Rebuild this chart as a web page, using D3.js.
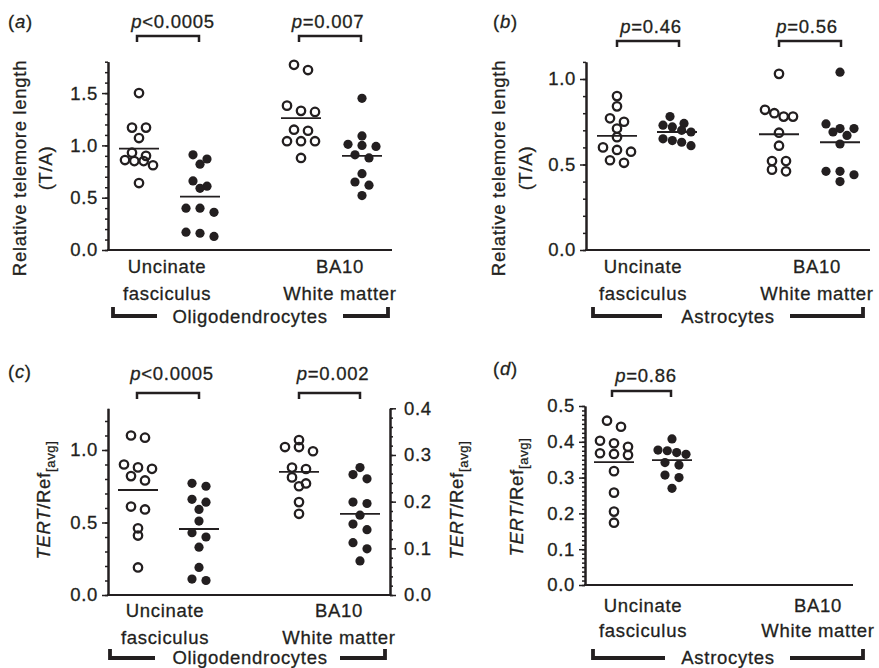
<!DOCTYPE html>
<html>
<head>
<meta charset="utf-8">
<script src="https://cdn.jsdelivr.net/npm/d3@7"></script>
<style>
body { margin: 0; background: #fff; }
text { font-family: "Liberation Sans", Arial, sans-serif; font-size: 18.5px; letter-spacing: 0.7px; fill: #231f20; stroke: #231f20; stroke-width: 0.3px; }
</style>
</head>
<body>
<script>
// ---- data ----
const regions = [["Uncinate", "fasciculus"], ["BA10", "White matter"]];
const cellTypes = ["Oligodendrocytes", "Astrocytes"];

// (a) telomere length, oligodendrocytes (open = control, filled = MDD)
const telOligoUFOpen   = [1.50, 1.17, 1.17, 1.07, 0.93, 0.90, 0.86, 0.85, 0.85, 0.81, 0.64];
const telOligoUFFilled = [0.91, 0.87, 0.82, 0.66, 0.61, 0.59, 0.40, 0.40, 0.36, 0.17, 0.16, 0.13];
const telOligoWMOpen   = [1.77, 1.72, 1.38, 1.33, 1.32, 1.15, 1.14, 1.04, 1.04, 1.04, 0.88];
const telOligoWMFilled = [1.45, 1.09, 1.01, 1.00, 0.99, 0.91, 0.88, 0.73, 0.65, 0.62, 0.52];
const telOligoMeans    = [0.97, 0.51, 1.26, 0.90];
const telOligoP        = ["<0.0005", "=0.007"];

// (b) telomere length, astrocytes
const telAstroUFOpen   = [0.90, 0.84, 0.77, 0.75, 0.71, 0.66, 0.60, 0.585, 0.575, 0.525, 0.51];
const telAstroUFFilled = [0.78, 0.74, 0.73, 0.72, 0.70, 0.69, 0.65, 0.64, 0.63, 0.61];
const telAstroWMOpen   = [1.03, 0.82, 0.80, 0.78, 0.78, 0.686, 0.61, 0.52, 0.52, 0.47, 0.46];
const telAstroWMFilled = [1.04, 0.737, 0.71, 0.71, 0.69, 0.67, 0.62, 0.46, 0.46, 0.44, 0.40];
const telAstroMeans    = [0.667, 0.69, 0.677, 0.63];
const telAstroP        = ["=0.46", "=0.56"];

// (c) TERT expression, oligodendrocytes (BA10 on right axis)
const tertOligoUFOpen   = [1.10, 1.085, 0.90, 0.88, 0.87, 0.82, 0.79, 0.61, 0.59, 0.46, 0.41, 0.19];
const tertOligoUFFilled = [0.77, 0.75, 0.66, 0.64, 0.59, 0.51, 0.43, 0.40, 0.33, 0.19, 0.11, 0.10];
const tertOligoWMOpen   = [0.332, 0.317, 0.317, 0.308, 0.273, 0.270, 0.252, 0.239, 0.233, 0.199, 0.174];
const tertOligoWMFilled = [0.273, 0.258, 0.249, 0.199, 0.196, 0.171, 0.152, 0.140, 0.112, 0.099, 0.073];
const tertOligoMeans    = [0.724, 0.455, 0.264, 0.174];
const tertOligoP        = ["<0.0005", "=0.002"];

// (d) TERT expression, astrocytes (uncinate only)
const tertAstroUFOpen   = [0.459, 0.442, 0.403, 0.396, 0.386, 0.368, 0.366, 0.363, 0.318, 0.258, 0.205, 0.174];
const tertAstroUFFilled = [0.408, 0.377, 0.375, 0.37, 0.365, 0.342, 0.335, 0.307, 0.30, 0.27];
const tertAstroMeans    = [0.343, 0.349];
const tertAstroP        = ["=0.86"];

const leftTicksTel  = [0, 0.5, 1.0, 1.5];
const leftTicksTelB = [0, 0.5, 1.0];
const rightTicksC   = [0, 0.1, 0.2, 0.3, 0.4];
const leftTicksD    = [0, 0.1, 0.2, 0.3, 0.4, 0.5];

// ---- page ----
const ink = "#231f20";
const svg = d3.select("body").append("svg").attr("width", 879).attr("height", 668);
const fmt = d3.format(".1f");

function swarm(values, y, cx) {
  const pts = values.map(v => ({ v, y: y(v) })).sort((a, b) => a.y - b.y);
  const rows = [];
  pts.forEach(p => {
    const row = rows[rows.length - 1];
    if (row && p.y - row[0].y < 7) row.push(p); else rows.push([p]);
  });
  rows.forEach(row => {
    const n = row.length, step = n === 1 ? 0 : n === 2 ? 14 : 28 / (n - 1);
    row.forEach((p, i) => p.x = cx + (i - (n - 1) / 2) * step);
  });
  return pts;
}

function styleAxis(g) {
  g.select(".domain").attr("stroke", ink).attr("stroke-width", 2);
  g.selectAll(".tick line").attr("stroke", ink).attr("stroke-width", 1.5);
}

function leftAxis(g, y, x0, major, minorStep) {
  const [lo, hi] = y.domain();
  const minor = d3.range(lo, hi + 1e-9, minorStep);
  g.append("g").attr("transform", `translate(${x0},0)`)
    .call(d3.axisLeft(y).tickValues(minor).tickSize(3).tickSizeOuter(0).tickFormat(""))
    .call(styleAxis);
  g.append("g").attr("transform", `translate(${x0},0)`)
    .call(d3.axisLeft(y).tickValues(major).tickSize(6).tickSizeOuter(0).tickPadding(4).tickFormat(fmt))
    .call(styleAxis)
    .call(a => a.selectAll("text").attr("fill", ink).style("font-size", "18.5px").style("font-family", null));
}

function dots(g, values, y, cx, filled, mean) {
  const pts = swarm(values, y, cx);
  g.append("line").attr("x1", cx - 20).attr("x2", cx + 20)
    .attr("y1", y(mean)).attr("y2", y(mean))
    .attr("stroke", ink).attr("stroke-width", 1.8);
  g.selectAll(null).data(pts).enter().append("circle")
    .attr("cx", d => d.x).attr("cy", d => d.y)
    .attr("r", filled ? 4.6 : 4.2)
    .attr("fill", filled ? ink : "none")
    .attr("stroke", filled ? "none" : ink)
    .attr("stroke-width", 2.3);
}

function pBracket(g, text, cx, x1, x2, baseline, by) {
  g.append("path").attr("d", `M${x1},${by + 6}V${by}H${x2}V${by + 6}`)
    .attr("fill", "none").attr("stroke", ink).attr("stroke-width", 2.5);
  const t = g.append("text").attr("x", cx).attr("y", baseline).attr("text-anchor", "middle");
  t.append("tspan").attr("font-style", "italic").text("p");
  t.append("tspan").text(text);
}

function panelTag(g, letter, x, y) {
  const t = g.append("text").attr("x", x).attr("y", y);
  t.append("tspan").text("(");
  t.append("tspan").attr("font-style", "italic").text(letter);
  t.append("tspan").text(")");
}

function xAxisAndLabels(g, L, cell) {
  g.append("line").attr("x1", L.x0 - 1).attr("x2", L.x1).attr("y1", L.y0).attr("y2", L.y0)
    .attr("stroke", ink).attr("stroke-width", 2);
  regions.forEach((r, i) => {
    r.forEach((line, j) => {
      g.append("text").attr("x", L.x0 + L.labelX[i]).attr("y", L.y0 + L.labelY[j])
        .attr("text-anchor", "middle").text(line);
    });
  });
  const by = L.y0 + L.brY;
  g.append("path")
    .attr("d", `M${L.x0 + L.brL[0]},${by - 9}V${by}H${L.x0 + L.brL[1]}M${L.x0 + L.brR[0]},${by}H${L.x0 + L.brR[1]}V${by - 9}`)
    .attr("fill", "none").attr("stroke", ink).attr("stroke-width", 3.8);
  g.append("text").attr("x", L.x0 + L.brText).attr("y", by + L.brTextDy)
    .attr("text-anchor", "middle").text(cell);
}

function yTitle(g, x, cy, lines) {
  lines.forEach((line, i) => {
    g.append("text").attr("transform", `translate(${x[i]},${cy}) rotate(-90)`)
      .attr("text-anchor", "middle").text(line);
  });
}

function tertTitle(g, x, cy) {
  const t = g.append("text").attr("transform", `translate(${x},${cy}) rotate(-90)`)
    .attr("text-anchor", "middle");
  t.append("tspan").attr("font-style", "italic").text("TERT");
  t.append("tspan").text("/Ref");
  t.append("tspan").attr("dy", 5).style("font-size", "13px").text("[avg]");
}

// ---- (a) ----
{
  const g = svg.append("g");
  const L = { x0: 108, x1: 392, y0: 250, labelX: [59, 232], labelY: [23, 50], brY: 66, brTextDy: 7, brL: [5, 49], brR: [235, 280], brText: 142 };
  const y = d3.scaleLinear().domain([0, 1.8]).range([250, 61.7]);
  const cols = [31, 92, 193, 254];
  leftAxis(g, y, L.x0, leftTicksTel, 0.1);
  [telOligoUFOpen, telOligoUFFilled, telOligoWMOpen, telOligoWMFilled].forEach((vals, i) =>
    dots(g, vals, y, L.x0 + cols[i], i % 2 === 1, telOligoMeans[i]));
  xAxisAndLabels(g, L, cellTypes[0]);
  pBracket(g, telOligoP[0], 173, 137, 199, 28, 36);
  pBracket(g, telOligoP[1], 328, 299, 361, 28, 36);
  panelTag(g, "a", 8, 28);
  yTitle(g, [26, 52], 168, ["Relative telemore length", "(T/A)"]);
}

// ---- (b) ----
{
  const g = svg.append("g");
  const L = { x0: 586, x1: 870, y0: 250, labelX: [57, 231], labelY: [23, 50], brY: 66, brTextDy: 7, brL: [7, 76], brR: [204, 277], brText: 142 };
  const y = d3.scaleLinear().domain([0, 1.1]).range([250, 61.9]);
  const cols = [31, 91, 193, 254];
  leftAxis(g, y, L.x0, leftTicksTelB, 0.1);
  [telAstroUFOpen, telAstroUFFilled, telAstroWMOpen, telAstroWMFilled].forEach((vals, i) =>
    dots(g, vals, y, L.x0 + cols[i], i % 2 === 1, telAstroMeans[i]));
  xAxisAndLabels(g, L, cellTypes[1]);
  pBracket(g, telAstroP[0], 651, 617, 679, 33, 41);
  pBracket(g, telAstroP[1], 807, 779, 841, 33, 41);
  panelTag(g, "b", 493, 28);
  yTitle(g, [505, 532], 168, ["Relative telemore length", "(T/A)"]);
}

// ---- (c) ----
{
  const g = svg.append("g");
  const L = { x0: 108, x1: 390, y0: 595, labelX: [57, 231], labelY: [22, 49], brY: 63, brTextDy: 6, brL: [2, 47], brR: [232, 277], brText: 142 };
  const y = d3.scaleLinear().domain([0, 1.2875]).range([595, 408.3]);
  const yR = d3.scaleLinear().domain([0, 0.4]).range([595, 408.3]);
  const cols = [30, 91, 191, 252];
  leftAxis(g, y, L.x0, leftTicksTelB, 0.1);
  g.append("g").attr("transform", `translate(${L.x1},0)`)
    .call(d3.axisRight(yR).tickValues(d3.range(0, 0.4001, 0.02)).tickSize(3).tickSizeOuter(0).tickFormat(""))
    .call(styleAxis);
  g.append("g").attr("transform", `translate(${L.x1},0)`)
    .call(d3.axisRight(yR).tickValues(rightTicksC).tickSize(6).tickSizeOuter(0).tickPadding(8).tickFormat(fmt))
    .call(styleAxis)
    .call(a => a.selectAll("text").attr("fill", ink).style("font-size", "18.5px").style("font-family", null));
  [tertOligoUFOpen, tertOligoUFFilled].forEach((vals, i) =>
    dots(g, vals, y, L.x0 + cols[i], i === 1, tertOligoMeans[i]));
  [tertOligoWMOpen, tertOligoWMFilled].forEach((vals, i) =>
    dots(g, vals, yR, L.x0 + cols[i + 2], i === 1, tertOligoMeans[i + 2]));
  xAxisAndLabels(g, L, cellTypes[0]);
  pBracket(g, tertOligoP[0], 172, 137, 199, 380, 393);
  pBracket(g, tertOligoP[1], 333, 299, 360, 380, 393);
  panelTag(g, "c", 8, 378);
  tertTitle(g, 50, 500);
}

// ---- (d) ----
{
  const g = svg.append("g");
  const L = { x0: 585, x1: 853, y0: 585, labelX: [58, 233], labelY: [27, 52], brY: 73, brTextDy: 6, brL: [8, 80], brR: [205, 278], brText: 143 };
  const y = d3.scaleLinear().domain([0, 0.5]).range([585, 406]);
  const cols = [29, 87];
  leftAxis(g, y, L.x0, leftTicksD, 0.0125);
  [tertAstroUFOpen, tertAstroUFFilled].forEach((vals, i) =>
    dots(g, vals, y, L.x0 + cols[i], i === 1, tertAstroMeans[i]));
  xAxisAndLabels(g, L, cellTypes[1]);
  pBracket(g, tertAstroP[0], 646, 612, 671, 382, 391);
  panelTag(g, "d", 493, 375);
  tertTitle(g, 463, 500);
  tertTitle(g, 523, 497);
}
</script>
</body>
</html>
